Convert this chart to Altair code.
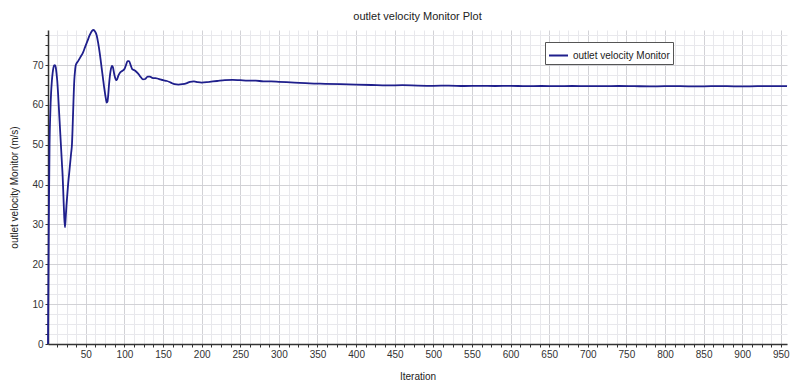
import altair as alt
import pandas as pd

iterations = [1, 2, 3, 4, 5, 6, 7, 8, 9, 10, 11, 12, 13, 14, 15, 16, 17, 18, 19, 20,
              21, 22, 23, 24, 25, 26, 27, 28, 29, 30, 31, 32, 33, 34, 35, 36, 37, 40, 43, 46,
              49, 52, 55, 58, 60, 62, 64, 66, 68, 70, 72, 74, 76, 77, 78, 79, 80, 82, 84, 85,
              87, 89, 90, 92, 94, 97, 100, 102, 104, 106, 108, 110, 113, 116, 118, 121, 124, 127, 130, 133,
              136, 140, 145, 150, 155, 160, 165, 170, 175, 180, 185, 190, 195, 200, 210, 220, 230, 240, 250, 260,
              270, 280, 290, 300, 320, 340, 360, 380, 400, 420, 440, 460, 480, 500, 520, 540, 560, 580, 600, 620,
              640, 660, 680, 700, 720, 740, 760, 780, 800, 820, 840, 860, 880, 900, 920, 940, 958]
velocity = [0.0, 30.0, 50.0, 58.0, 63.0, 66.0, 68.0, 69.3, 69.9, 70.0, 69.5, 68.0, 66.0, 63.0, 59.5, 56.0, 52.5, 49.0, 45.5, 42.0,
            37.0, 32.0, 29.3, 32.0, 35.0, 37.5, 40.0, 42.0, 44.0, 46.0, 48.0, 50.0, 55.0, 61.0, 66.0, 68.5, 70.0, 71.0, 72.0, 73.0,
            74.5, 76.0, 77.5, 78.6, 78.8, 78.4, 77.5, 75.5, 73.0, 70.0, 67.0, 64.0, 61.5, 60.6, 60.8, 62.5, 65.0, 68.5, 69.8, 69.5,
            67.5, 66.3, 66.2, 67.3, 68.0, 68.5, 69.0, 70.0, 71.0, 71.0, 70.0, 69.0, 68.7, 68.2, 67.8, 67.0, 66.4, 66.5, 67.1, 67.1,
            66.8, 66.7, 66.5, 66.2, 66.0, 65.6, 65.2, 65.1, 65.2, 65.4, 65.8, 65.9, 65.7, 65.6, 65.8, 66.0, 66.2, 66.3, 66.2, 66.1,
            66.1, 65.9, 65.9, 65.8, 65.6, 65.4, 65.3, 65.2, 65.1, 65.0, 64.9, 64.95, 64.85, 64.8, 64.85, 64.75, 64.8, 64.75, 64.8, 64.7,
            64.75, 64.7, 64.75, 64.7, 64.7, 64.75, 64.7, 64.65, 64.7, 64.7, 64.65, 64.7, 64.7, 64.65, 64.7, 64.7, 64.7]

series_name = "outlet velocity Monitor"
x_ticks = [12.5 * i for i in range(1, 77)]
y_ticks = [2.5 * i for i in range(0, 32)]

df = pd.DataFrame({"Iteration": iterations, "value": velocity, "series": series_name})

FONT = "Liberation Sans"

chart = alt.Chart(df).mark_line(strokeWidth=1.8, interpolate="monotone").encode(
    x=alt.X("Iteration:Q",
            scale=alt.Scale(domain=[1, 958], nice=False, zero=False),
            axis=alt.Axis(title="Iteration", values=x_ticks,
                          labelExpr="datum.value % 50 === 0 ? datum.label : ''",
                          gridColor={"condition": {"test": "datum.value % 50 === 0", "value": "#d2d2d6"}, "value": "#e8e8ec"},
                          tickSize=3, labelPadding=2, titlePadding=12,
                          labelFlush=False, labelOverlap=False)),
    y=alt.Y("value:Q",
            scale=alt.Scale(domain=[0, 78.8], nice=False),
            axis=alt.Axis(title="outlet velocity Monitor (m/s)", values=y_ticks,
                          labelExpr="datum.value % 10 === 0 ? datum.label : ''",
                          gridColor={"condition": {"test": "datum.value % 10 === 0", "value": "#d2d2d6"}, "value": "#e8e8ec"},
                          tickSize=3, labelPadding=2, titlePadding=12,
                          labelFlush=False, labelOverlap=False)),
    color=alt.Color("series:N",
                    scale=alt.Scale(range=["#1f1f8c"]),
                    legend=alt.Legend(title=None, orient="none", legendX=497, legendY=12,
                                      strokeColor="#555555", fillColor="white", padding=3,
                                      symbolType="stroke", symbolSize=361, symbolStrokeWidth=2,
                                      labelFont=FONT, labelFontSize=10, labelColor="#222222",
                                      cornerRadius=0)),
).properties(
    width=739, height=314,
    title=alt.TitleParams("outlet velocity Monitor Plot", font=FONT, fontSize=11,
                          fontWeight="normal", color="#222222", anchor="middle", offset=4),
    autosize=alt.AutoSizeParams(type="none"),
    padding={"left": 40, "top": 22, "right": 5, "bottom": 44},
).configure_view(stroke=None).configure_axis(
    labelFont=FONT, labelFontSize=10, labelColor="#333333",
    titleFont=FONT, titleFontSize=10, titleFontWeight="normal", titleColor="#222222",
    domainColor="#333333", tickColor="#333333", domainWidth=1.5,
)

chart.save("out.html", embed_options={"renderer": "svg", "actions": False})
